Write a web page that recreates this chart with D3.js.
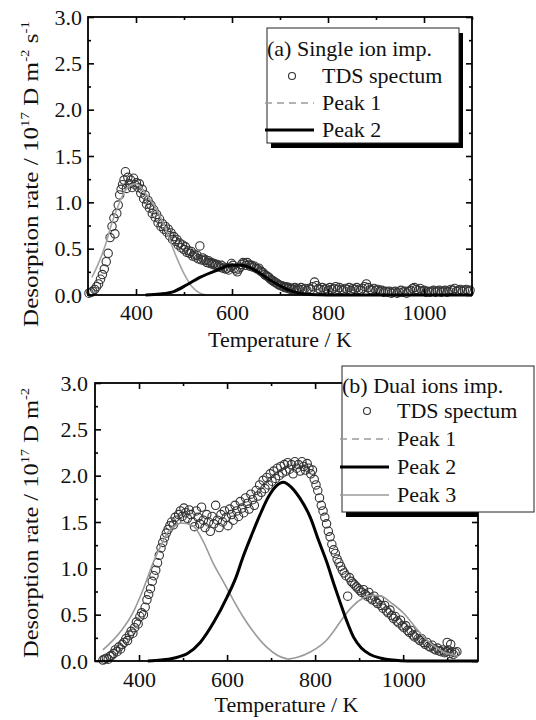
<!DOCTYPE html>
<html>
<head>
<meta charset="utf-8">
<script src="https://cdnjs.cloudflare.com/ajax/libs/d3/7.8.5/d3.min.js"></script>
<style>
  body { margin: 0; background: #fff; }
  svg { display: block; }
  svg text { font-family: "Liberation Serif", "Times New Roman", serif; fill: #111; }
</style>
</head>
<body>
<svg></svg>
<script>

// ticks
let xTicks = [400, 600, 800, 1000]
let xMinorTicks = [500, 700, 900, 1100]
let yTicks = [0, 0.5, 1.0, 1.5, 2.0, 2.5, 3.0]
let yMinorTicks = [0.25, 0.75, 1.25, 1.75, 2.25, 2.75]

let xTitle = 'Temperature / K'
let legendTitleA = '(a) Single ion imp.'
let legendTitleB = '(b) Dual ions imp.'
let legendLabelsA = ['TDS spectum', 'Peak 1', 'Peak 2']
let legendLabelsB = ['TDS spectum', 'Peak 1', 'Peak 2', 'Peak 3']

// (a) single ion implantation, [T (K), rate]
let tdsA = [[302,0.02],[306,0.03],[310,0.04],[314,0.06],[318,0.09],[322,0.12],[326,0.17],[330,0.22],[334,0.28],[338,0.36],
  [342,0.45],[346,0.62],[350,0.74],[354,0.83],[356,0.66],[360,0.88],[363,0.97],[366,1.08],[369,1.14],[372,1.19],
  [375,1.24],[378,1.33],[380,1.15],[383,1.27],[386,1.20],[389,1.24],[392,1.16],[395,1.26],[398,1.19],[401,1.21],
  [404,1.16],[407,1.20],[410,1.10],[413,1.14],[416,1.04],[419,1.08],[422,0.98],[425,1.02],[428,0.94],[431,0.97],
  [434,0.88],[437,0.92],[440,0.84],[443,0.87],[446,0.78],[449,0.82],[452,0.74],[455,0.77],[458,0.71],[461,0.74],
  [464,0.68],[467,0.71],[470,0.64],[473,0.67],[476,0.60],[479,0.63],[482,0.58],[485,0.60],[488,0.54],[491,0.56],
  [494,0.51],[497,0.54],[500,0.49],[503,0.52],[506,0.46],[509,0.48],[512,0.45],[515,0.47],[518,0.42],[521,0.44],
  [524,0.41],[527,0.43],[530,0.39],[533,0.53],[536,0.38],[539,0.40],[542,0.37],[545,0.38],[548,0.35],[551,0.37],
  [554,0.34],[557,0.35],[560,0.33],[563,0.34],[566,0.32],[569,0.33],[572,0.31],[575,0.30],[578,0.32],[581,0.29],
  [584,0.30],[587,0.28],[590,0.29],[593,0.27],[596,0.30],[599,0.34],[602,0.32],[605,0.29],[608,0.27],[611,0.25],
  [614,0.28],[617,0.30],[620,0.33],[623,0.35],[626,0.34],[629,0.32],[632,0.35],[635,0.33],[638,0.31],[641,0.32],
  [644,0.30],[647,0.31],[650,0.29],[653,0.28],[656,0.29],[659,0.26],[662,0.25],[665,0.24],[668,0.22],[671,0.21],
  [674,0.20],[677,0.19],[680,0.17],[683,0.16],[686,0.15],[689,0.14],[692,0.13],[695,0.12],[698,0.11],[701,0.10],
  [704,0.10],[707,0.09],[710,0.08],[713,0.09],[716,0.07],[719,0.08],[722,0.06],[725,0.07],[728,0.06],[731,0.08],
  [734,0.05],[737,0.07],[740,0.06],[744,0.08],[748,0.06],[752,0.07],[756,0.05],[760,0.07],[764,0.06],[768,0.09],
  [772,0.14],[776,0.10],[780,0.07],[784,0.06],[788,0.08],[792,0.06],[796,0.07],[800,0.05],[804,0.08],[808,0.06],
  [812,0.07],[816,0.09],[820,0.06],[824,0.08],[828,0.06],[832,0.05],[836,0.07],[840,0.06],[844,0.08],[848,0.05],
  [852,0.07],[856,0.06],[860,0.08],[864,0.06],[868,0.05],[872,0.07],[876,0.09],[880,0.12],[884,0.08],[888,0.06],
  [892,0.05],[896,0.07],[900,0.05],[904,0.06],[908,0.04],[912,0.05],[916,0.03],[920,0.04],[924,0.03],[928,0.04],
  [932,0.02],[936,0.03],[940,0.04],[944,0.02],[948,0.03],[952,0.05],[956,0.03],[960,0.04],[964,0.02],[968,0.04],
  [972,0.05],[976,0.07],[980,0.08],[984,0.06],[988,0.05],[992,0.07],[996,0.04],[1000,0.05],[1004,0.03],[1008,0.04],
  [1012,0.03],[1016,0.04],[1020,0.05],[1024,0.03],[1028,0.04],[1032,0.05],[1036,0.03],[1040,0.04],[1044,0.05],[1048,0.03],
  [1052,0.04],[1056,0.06],[1060,0.05],[1064,0.07],[1068,0.04],[1072,0.05],[1076,0.06],[1080,0.04],[1084,0.05],[1088,0.06],
  [1092,0.04],[1096,0.05]]

let peak1A = [[308,0.19],[320,0.32],[335,0.52],[350,0.78],[365,0.99],[378,1.13],[390,1.19],[400,1.20],[412,1.15],
  [425,1.06],[440,0.95],[455,0.80],[470,0.60],[485,0.40],[500,0.23],[515,0.10],[530,0.03],[545,0.0]]

let peak2A = [[420,0],[450,0.01],[480,0.04],[506,0.11],[533,0.19],[570,0.27],[598,0.32],[620,0.32],[640,0.29],
  [660,0.23],[680,0.16],[700,0.10],[720,0.05],[740,0.02],[760,0.005],[800,0],[1100,0]]

// (b) dual ions implantation
let tdsB = [[318,0.01],[322,0.02],[326,0.03],[330,0.02],[334,0.05],[338,0.06],[342,0.08],[346,0.12],[350,0.10],[354,0.15],
  [358,0.13],[362,0.18],[366,0.20],[370,0.24],[374,0.22],[378,0.28],[382,0.32],[386,0.30],[390,0.36],[394,0.42],
  [398,0.40],[402,0.48],[406,0.52],[410,0.50],[414,0.58],[418,0.66],[422,0.72],[426,0.78],[430,0.86],[434,0.92],
  [438,0.98],[442,1.06],[446,1.14],[450,1.22],[454,1.28],[458,1.33],[462,1.38],[466,1.42],[470,1.46],[474,1.50],
  [478,1.47],[482,1.55],[486,1.52],[490,1.58],[494,1.62],[498,1.56],[502,1.65],[506,1.60],[510,1.54],[514,1.63],
  [518,1.58],[522,1.50],[526,1.45],[530,1.62],[534,1.55],[538,1.48],[542,1.66],[546,1.52],[550,1.44],[554,1.58],
  [558,1.50],[562,1.40],[566,1.56],[570,1.48],[574,1.68],[578,1.52],[582,1.44],[586,1.58],[590,1.50],[594,1.62],
  [598,1.55],[602,1.46],[606,1.64],[610,1.58],[614,1.52],[618,1.68],[622,1.62],[626,1.56],[630,1.72],[634,1.65],
  [638,1.60],[642,1.76],[646,1.70],[650,1.64],[654,1.80],[658,1.74],[662,1.68],[666,1.84],[670,1.78],[674,1.90],
  [678,1.82],[682,1.95],[686,1.86],[690,1.98],[694,1.90],[698,2.02],[702,1.94],[706,2.05],[710,1.97],[714,2.08],
  [718,2.00],[722,2.10],[726,2.03],[730,2.12],[734,2.05],[738,2.14],[742,2.07],[746,2.12],[750,2.02],[754,2.15],
  [758,2.08],[762,2.12],[766,2.05],[770,2.15],[774,2.10],[778,2.06],[782,2.13],[786,2.08],[790,2.02],[794,2.06],
  [798,1.96],[802,1.90],[806,1.84],[810,1.76],[814,1.68],[818,1.62],[822,1.55],[826,1.48],[830,1.40],[834,1.34],
  [838,1.26],[842,1.20],[846,1.16],[850,1.10],[854,1.06],[858,1.02],[862,0.98],[866,0.95],[870,0.92],[874,0.70],
  [878,0.90],[882,0.86],[886,0.84],[890,0.82],[894,0.80],[898,0.78],[902,0.76],[906,0.74],[910,0.77],[914,0.72],
  [918,0.70],[922,0.74],[926,0.68],[930,0.66],[934,0.70],[938,0.64],[942,0.62],[946,0.66],[950,0.60],[954,0.57],
  [958,0.60],[962,0.54],[966,0.52],[970,0.55],[974,0.49],[978,0.46],[982,0.48],[986,0.43],[990,0.41],[994,0.44],
  [998,0.38],[1002,0.36],[1006,0.38],[1010,0.33],[1014,0.31],[1018,0.33],[1022,0.28],[1026,0.26],[1030,0.28],[1034,0.24],
  [1038,0.22],[1042,0.24],[1046,0.20],[1050,0.18],[1054,0.20],[1058,0.16],[1062,0.15],[1066,0.17],[1070,0.13],[1074,0.12],
  [1078,0.14],[1082,0.11],[1086,0.10],[1090,0.12],[1094,0.09],[1098,0.10],[1100,0.20],[1102,0.12],[1106,0.08],[1108,0.18],
  [1110,0.10],[1114,0.07],[1118,0.09],[1122,0.10]]

let peak1B = [[318,0.12],[340,0.22],[360,0.33],[386,0.52],[410,0.78],[432,1.06],[450,1.25],[464,1.38],[480,1.45],
  [495,1.49],[510,1.48],[525,1.45],[545,1.30],[568,1.06],[590,0.87],[614,0.66],[636,0.48],[659,0.32],[690,0.15],
  [715,0.06],[738,0.02]]

let peak2B = [[420,0],[450,0.01],[478,0.03],[510,0.08],[539,0.20],[570,0.42],[600,0.69],[620,0.90],[636,1.12],
  [655,1.35],[675,1.58],[695,1.78],[712,1.89],[728,1.93],[745,1.88],[765,1.76],[789,1.55],[808,1.30],[827,1.06],
  [842,0.84],[857,0.63],[872,0.43],[887,0.26],[905,0.14],[925,0.07],[950,0.03],[977,0.01],[1010,0],[1170,0]]

let peak3B = [[738,0.02],[760,0.04],[790,0.10],[827,0.23],[845,0.34],[864,0.47],[885,0.59],[909,0.68],[930,0.71],
  [950,0.70],[975,0.62],[1000,0.52],[1020,0.41],[1039,0.30],[1058,0.21],[1077,0.14],[1095,0.09],[1110,0.07],[1125,0.05]]

let width = 536
let height = 720
let fontSize = 22
let serif = '"Liberation Serif", "Times New Roman", serif'

let grayLine = '#9a9a9a'

let svg = d3.select('svg')
svg.attr('width', width)
svg.attr('height', height)

let makeLine = (xScale, yScale) => d3.line()
  .x((d) => xScale(d[0]))
  .y((d) => yScale(d[1]))
  .curve(d3.curveMonotoneX)

let styleAxis = (g) => {
  g.attr('font-family', serif).attr('font-size', fontSize)
  g.select('.domain').remove()
  g.selectAll('.tick line').attr('stroke', '#000').attr('stroke-width', 1.6)
  g.selectAll('.tick text').attr('fill', '#111')
}

let drawYTitle = (x, yCenter, len, withSeconds) => {
  let t = svg.append('text')
    .attr('text-anchor', 'middle')
    .attr('font-family', serif)
    .attr('font-size', fontSize)
  t.append('tspan').text('Desorption rate / 10')
  t.append('tspan').attr('dy', -9).attr('font-size', 13).text('17')
  t.append('tspan').attr('dy', 9).text(' D m')
  t.append('tspan').attr('dy', -9).attr('font-size', 13).text('-2')
  if (withSeconds) {
    t.append('tspan').attr('dy', 9).text(' s')
    t.append('tspan').attr('dy', -9).attr('font-size', 13).text('-1')
  }
  let natural = t.node().getComputedTextLength()
  t.attr('transform', 'translate(' + x + ',' + yCenter + ') rotate(-90) scale(' + (len / natural) + ',1)')
}

let drawPanel = (p) => {
  let xScale = d3.scaleLinear().domain([300, p.xMax]).range([p.left, p.right])
  let yScale = d3.scaleLinear().domain([0, 3]).range([p.bottom, p.top])
  let g = svg.append('g')

  // data points
  g.selectAll('circle.dot')
    .data(p.tds)
    .enter()
    .append('circle')
    .attr('class', 'dot')
    .attr('cx', (d) => xScale(d[0]))
    .attr('cy', (d) => yScale(d[1]))
    .attr('r', 4.2)
    .attr('fill', 'none')
    .attr('stroke', '#333')
    .attr('stroke-width', 1.1)

  // fitted peaks
  p.curves.forEach((c) => {
    g.append('path')
      .datum(c.data)
      .attr('d', makeLine(xScale, yScale))
      .attr('fill', 'none')
      .attr('stroke', c.color)
      .attr('stroke-width', c.width)
  })

  // frame
  g.append('rect')
    .attr('x', p.left)
    .attr('y', p.top)
    .attr('width', p.right - p.left)
    .attr('height', p.bottom - p.top)
    .attr('fill', 'none')
    .attr('stroke', '#000')
    .attr('stroke-width', 1.8)

  // axes, ticks pointing inward
  g.append('g')
    .attr('transform', 'translate(0,' + p.bottom + ')')
    .call(d3.axisBottom(xScale).tickValues(xTicks).tickSize(-6).tickSizeOuter(0).tickPadding(p.xPad).tickFormat(d3.format('d')))
    .call(styleAxis)
  g.append('g')
    .attr('transform', 'translate(0,' + p.bottom + ')')
    .call(d3.axisBottom(xScale).tickValues(xMinorTicks).tickSize(-3).tickSizeOuter(0).tickFormat(''))
    .call(styleAxis)
  g.append('g')
    .attr('transform', 'translate(0,' + p.top + ')')
    .call(d3.axisTop(xScale).tickValues(xTicks).tickSize(-6).tickSizeOuter(0).tickFormat(''))
    .call(styleAxis)
  g.append('g')
    .attr('transform', 'translate(0,' + p.top + ')')
    .call(d3.axisTop(xScale).tickValues(xMinorTicks).tickSize(-3).tickSizeOuter(0).tickFormat(''))
    .call(styleAxis)

  g.append('g')
    .attr('transform', 'translate(' + p.left + ',0)')
    .call(d3.axisLeft(yScale).tickValues(yTicks).tickSize(-6).tickSizeOuter(0).tickPadding(p.yPad).tickFormat(d3.format('.1f')))
    .call(styleAxis)
  g.append('g')
    .attr('transform', 'translate(' + p.left + ',0)')
    .call(d3.axisLeft(yScale).tickValues(yMinorTicks).tickSize(-3).tickSizeOuter(0).tickFormat(''))
    .call(styleAxis)
  g.append('g')
    .attr('transform', 'translate(' + p.right + ',0)')
    .call(d3.axisRight(yScale).tickValues(yTicks).tickSize(-6).tickSizeOuter(0).tickFormat(''))
    .call(styleAxis)
  g.append('g')
    .attr('transform', 'translate(' + p.right + ',0)')
    .call(d3.axisRight(yScale).tickValues(yMinorTicks).tickSize(-3).tickSizeOuter(0).tickFormat(''))
    .call(styleAxis)

  // x title
  svg.append('text')
    .attr('x', (p.left + p.right) / 2)
    .attr('y', p.xTitleY)
    .attr('text-anchor', 'middle')
    .attr('font-family', serif)
    .attr('font-size', fontSize)
    .text(xTitle)

  drawYTitle(38, p.yTitleCenter, p.yTitleLen, p.withSeconds)

  // legend
  let L = p.legend
  let lg = svg.append('g').attr('font-family', serif).attr('font-size', fontSize)
  lg.append('rect')
    .attr('x', L.x + 4)
    .attr('y', L.y + 5)
    .attr('width', Math.min(L.w, L.shadowRight - L.x - 4))
    .attr('height', L.h)
    .attr('fill', '#000')
  lg.append('rect')
    .attr('x', L.x)
    .attr('y', L.y)
    .attr('width', L.w)
    .attr('height', L.h)
    .attr('fill', '#fff')
    .attr('stroke', '#222')
    .attr('stroke-width', 1)
  lg.append('text')
    .attr('x', L.x)
    .attr('y', L.titleY)
    .text(L.title)

  L.labels.forEach((label, i) => {
    let by = L.rowY + i * L.gap
    let sy = by - 7
    if (i === 0) {
      lg.append('circle')
        .attr('cx', L.x + 25)
        .attr('cy', sy)
        .attr('r', 3.5)
        .attr('fill', 'none')
        .attr('stroke', '#333')
        .attr('stroke-width', 1.1)
    } else {
      let st = p.curveStyles[i - 1]
      lg.append('line')
        .attr('x1', L.x - 2)
        .attr('x2', L.x + 47)
        .attr('y1', sy)
        .attr('y2', sy)
        .attr('stroke', st.color)
        .attr('stroke-width', st.width)
        .attr('stroke-dasharray', st.dash || null)
    }
    lg.append('text')
      .attr('x', L.x + 55)
      .attr('y', by)
      .text(label)
  })
}

let styleP1 = {color: grayLine, width: 1.6, dash: '7,5'}
let styleP2 = {color: '#000', width: 3}
let styleP3 = {color: grayLine, width: 1.6}

drawPanel({
  left: 88, right: 472, top: 17, bottom: 295, xMax: 1100,
  xPad: 9, yPad: 6, xTitleY: 347,
  yTitleCenter: 174, yTitleLen: 306, withSeconds: true,
  tds: tdsA,
  curves: [
    {data: peak1A, color: '#a4a4a4', width: 1.6},
    {data: peak2A, color: '#000', width: 3}
  ],
  curveStyles: [styleP1, styleP2],
  legend: {x: 267, y: 28, w: 192, h: 115, shadowRight: 463, title: legendTitleA,
    titleY: 56, rowY: 83, gap: 27, labels: legendLabelsA}
})

drawPanel({
  left: 95, right: 478, top: 383, bottom: 661, xMax: 1170,
  xPad: 10, yPad: 7, xTitleY: 712,
  yTitleCenter: 523, yTitleLen: 270, withSeconds: false,
  tds: tdsB,
  curves: [
    {data: peak1B, color: grayLine, width: 1.6},
    {data: peak3B, color: grayLine, width: 1.6},
    {data: peak2B, color: '#000', width: 3}
  ],
  curveStyles: [styleP1, styleP2, styleP3],
  legend: {x: 342, y: 366, w: 192, h: 146, shadowRight: 478, title: legendTitleB,
    titleY: 393, rowY: 418, gap: 28, labels: legendLabelsB}
})

</script>
</body>
</html>
